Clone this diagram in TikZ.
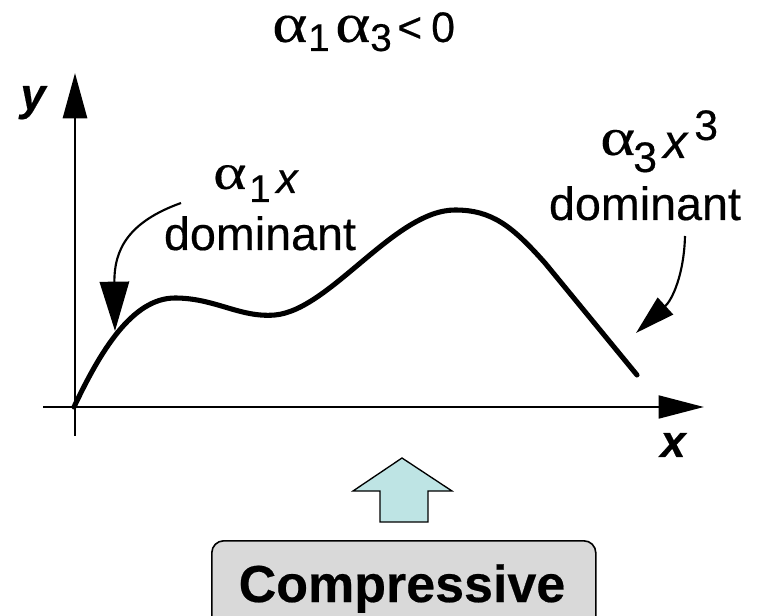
\documentclass[tikz,border=0pt]{standalone}
\usepackage{fontspec}
\usepackage{graphicx}
\setmainfont{Liberation Sans}[FakeBold=0.4]
\newfontfamily\grk{Liberation Serif}[FakeBold=0.2]
\usetikzlibrary{arrows.meta}
\definecolor{arrowfill}{RGB}{190,228,228}
\definecolor{boxfill}{RGB}{217,217,217}
\newlength\pxu \setlength\pxu{0.75pt}
% #1 size, #2 horizontal stretch
\newcommand\galpha[2]{\scalebox{#2}[1]{\grk\fontsize{#1}{#1}\selectfont α}}
\newcommand\fsz[1]{\fontsize{#1}{#1}\selectfont}
% #1 box width in px, #2 vertical shift in px, #3 content
\newcommand\pc[3]{\makebox[#1\pxu][l]{\raisebox{#2\pxu}{#3}}}
\begin{document}
\begin{tikzpicture}[x=0.75pt,y=-0.75pt,
  lbl/.style={inner sep=0pt,anchor=base,font=\fsz{35}},
  lblw/.style={inner sep=0pt,anchor=base west},
  axisline/.style={line width=2.2pt},
  pointer/.style={line width=1.6pt},
  curve/.style={line width=3.8pt,line cap=round}]
\useasboundingbox (0,0) rectangle (757,616);
\clip (0,0) rectangle (757,616);
% axes
\coordinate (ybot) at (75,436);
\coordinate (ytop) at (75,73);
\coordinate (xl) at (43,407);
\coordinate (xr) at (704,407);
\coordinate (O) at (74,407);
\draw[axisline,-{Triangle[length=34pt,width=18pt]}] (ybot) -- (ytop);
\draw[axisline,-{Triangle[length=34pt,width=17pt]}] (xl) -- (xr);
\node[lbl,font=\fsz{34}\bfseries\itshape] (ylab) at (33,110) {y};
\node[lbl,font=\fsz{34}\bfseries\itshape] (xlab) at (673,457) {x};
% title
\node[lblw] (title) at (272,42)
  {\pc{36}{0}{\galpha{42}{1.2}}\pc{27}{-9}{\fsz{29}1}\pc{35}{0}{\galpha{42}{1.2}}\pc{27}{-9}{\fsz{29}3}\pc{34}{0}{\fsz{32}<}{\fsz{32}0}};
% curve
\coordinate (cend) at (637,375);
\draw[curve] (O) .. controls (100,352) and (132,298) .. (175,298)
  .. controls (215,298) and (240,318) .. (275,315)
  .. controls (330,310) and (395,210) .. (455,210)
  .. controls (492,210) and (512,226) .. (545,263) -- (cend);
% left label
\node[lblw] (a1x) at (213,193)
  {\pc{36}{4}{\galpha{38}{1.25}}\pc{27}{-9}{\fsz{29}1}{\fsz{32}\itshape x}};
\node[lbl] (dom1) at (260,250) {dominant};
\coordinate (p1s) at (181,203);
\coordinate (p1e) at (115,331);
\draw[pointer,-{Triangle[length=37pt,width=22pt]}] (p1s) .. controls (128,222) and (114,250) .. (p1e);
% right label
\node[lblw] (a3x) at (600,158)
  {\pc{33}{3}{\galpha{40}{1.25}}\pc{30}{-14}{\fsz{32}3}\pc{31}{0}{\fsz{36}\itshape x}\pc{20}{18}{\fsz{32}3}};
\node[lbl] (dom3) at (645,220) {dominant};
\coordinate (p3s) at (685,236);
\coordinate (p3e) at (636,333);
\draw[pointer,-{Triangle[length=30pt,width=17pt]}] (p3s) .. controls (684,275) and (672,300) .. (p3e);
% block arrow
\draw[fill=arrowfill,line width=1pt] (402,458) -- (452,491) -- (428,491) -- (428,522)
  -- (380,522) -- (380,491) -- (353,491) -- cycle;
% box
\node[draw,fill=boxfill,line width=1.2pt,rounded corners=9pt,minimum width=384pt*0.75,
  minimum height=90pt*0.75,anchor=north west,inner sep=0pt] (box) at (211,540) {};
\node[lbl,font=\fsz{39}\bfseries] (comp) at (402,602) {Compressive};
\end{tikzpicture}
\end{document}
